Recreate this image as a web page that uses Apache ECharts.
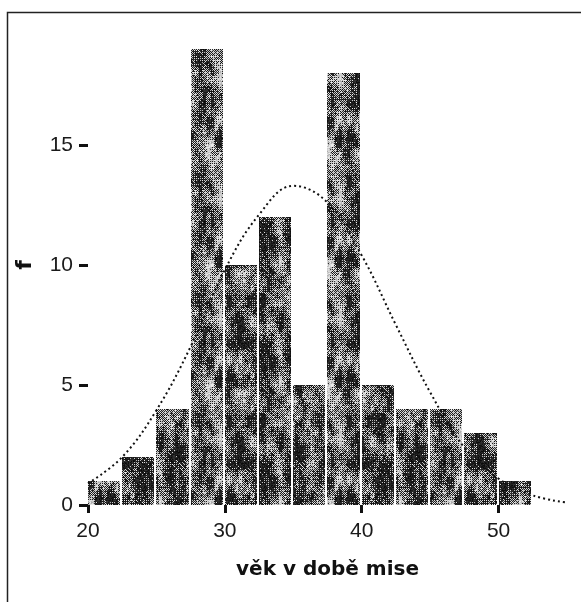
<!DOCTYPE html>
<html>
<head>
<meta charset="utf-8">
<script src="https://cdn.jsdelivr.net/npm/echarts@6/dist/echarts.min.js"></script>
<style>
  html, body { margin: 0; padding: 0; background: #fff; }
  #chart { width: 581px; height: 602px; }
</style>
</head>
<body>
<div id="chart"></div>
<script>
// Age at time of mission: histogram bins (edges in years) and frequencies
const binEdges = [20, 22.5, 25, 27.5, 30, 32.5, 35, 37.5, 40, 42.5, 45, 47.5, 50, 52.5];
const counts = [1, 2, 4, 19, 10, 12, 5, 18, 5, 4, 4, 3, 1];

// Fitted normal curve, sampled values
const curveAges = [20, 22.5, 25, 27.5, 30, 32.5, 35, 37.5, 40, 42.5, 45, 47.5, 50, 52.5, 55];
const curveFreq = [0.9, 2.0, 3.95, 6.6, 9.8, 12.1, 13.3, 12.6, 10.4, 7.5, 4.7, 2.4, 1.1, 0.4, 0.1];

const xTicks = [20, 30, 40, 50];
const yTicks = [0, 5, 10, 15];

// Dithered dark-grey texture used as the bar fill (tileable)
function makeTexture() {
  const size = 120;
  const c = document.createElement('canvas');
  c.width = size; c.height = size;
  const ctx = c.getContext('2d');
  const img = ctx.createImageData(size, size);
  const hash = (x, y) => {
    const s = Math.sin(x * 12.9898 + y * 78.233) * 43758.5453;
    return s - Math.floor(s);
  };
  // smooth value noise on a lattice that wraps at the tile size
  const noise = (x, y, cw, ch, seed) => {
    const nx = size / cw, ny = size / ch;
    const lat = (gx, gy) => hash(((gx % nx) + nx) % nx + seed, ((gy % ny) + ny) % ny + seed * 3);
    const gx = Math.floor(x / cw), gy = Math.floor(y / ch);
    let fx = (x % cw) / cw, fy = (y % ch) / ch;
    fx = fx * fx * (3 - 2 * fx); fy = fy * fy * (3 - 2 * fy);
    const a = lat(gx, gy), b = lat(gx + 1, gy), d = lat(gx, gy + 1), e = lat(gx + 1, gy + 1);
    const top = a + (b - a) * fx, bot = d + (e - d) * fx;
    return top + (bot - top) * fy;
  };
  const bayer = [[0, 8, 2, 10], [12, 4, 14, 6], [3, 11, 1, 9], [15, 7, 13, 5]];
  for (let y = 0; y < size; y++) {
    for (let x = 0; x < size; x++) {
      let t = 0.45 * noise(x, y, 10, 20, 5) + 0.35 * noise(x, y, 4, 8, 41) + 0.2 * hash(x + 311, y + 17);
      t = Math.max(0, Math.min(1, (t - 0.5) * 2.0 + 0.36));
      const thr = (bayer[y % 4][x % 4] + 0.5) / 16;
      const gray = t > thr ? 170 + Math.round(hash(x, y + 999) * 70) : 8 + Math.round(hash(x + 77, y) * 45);
      const i = (y * size + x) * 4;
      img.data[i] = gray; img.data[i + 1] = gray; img.data[i + 2] = gray; img.data[i + 3] = 255;
    }
  }
  ctx.putImageData(img, 0, 0);
  return c;
}
const texture = makeTexture();

const histData = counts.map((c, i) => [binEdges[i], binEdges[i + 1], c]);
const curveData = curveAges.map((a, i) => [a, curveFreq[i]]);

const chart = echarts.init(document.getElementById('chart'), null, { renderer: 'canvas' });

const numFont = '"Liberation Sans", Arial, sans-serif';
const titleFont = '"DejaVu Sans", Verdana, sans-serif';

chart.setOption({
  backgroundColor: '#ffffff',
  animation: false,
  grid: { left: 88, right: 14, top: 25, bottom: 97 },
  graphic: [{
    type: 'rect',
    shape: { x: 7.5, y: 12.5, width: 700, height: 700 },
    style: { fill: 'none', stroke: '#222', lineWidth: 1.5 },
    silent: true
  }],
  xAxis: {
    type: 'value',
    min: 20,
    max: 55,
    name: 'věk v době mise',
    nameLocation: 'middle',
    nameGap: 55,
    nameTextStyle: { fontFamily: titleFont, fontWeight: 'bold', fontSize: 20, color: '#111' },
    splitLine: { show: false },
    axisLine: { show: false },
    axisTick: { show: true, customValues: xTicks, length: 8, lineStyle: { color: '#111', width: 3 } },
    axisLabel: { customValues: xTicks, margin: 16, fontFamily: numFont, fontSize: 21, color: '#1a1a1a' }
  },
  yAxis: {
    type: 'value',
    min: 0,
    max: 20,
    name: 'f',
    nameLocation: 'middle',
    nameGap: 52,
    nameRotate: 90,
    nameTextStyle: { fontFamily: titleFont, fontWeight: 'bold', fontSize: 22, color: '#111' },
    splitLine: { show: false },
    axisLine: { show: false },
    axisTick: { show: true, customValues: yTicks, length: 9, lineStyle: { color: '#111', width: 3 } },
    axisLabel: { customValues: yTicks, margin: 15, fontFamily: numFont, fontSize: 21, color: '#1a1a1a' }
  },
  series: [
    {
      type: 'custom',
      data: histData,
      encode: { x: [0, 1], y: 2 },
      renderItem: function (params, api) {
        const p0 = api.coord([api.value(0), api.value(2)]);
        const p1 = api.coord([api.value(1), 0]);
        const x0 = Math.round(p0[0]);
        const x1 = Math.round(p1[0]) - 2;
        const y0 = Math.round(p0[1]);
        const y1 = Math.round(p1[1]);
        return {
          type: 'rect',
          shape: { x: x0, y: y0, width: x1 - x0, height: y1 - y0 },
          style: { fill: { image: texture, repeat: 'repeat' } }
        };
      },
      z: 2
    },
    {
      type: 'line',
      data: curveData,
      smooth: 0.4,
      showSymbol: false,
      lineStyle: { color: '#111', width: 2, type: [2, 3] },
      z: 3
    }
  ]
});
</script>
</body>
</html>
